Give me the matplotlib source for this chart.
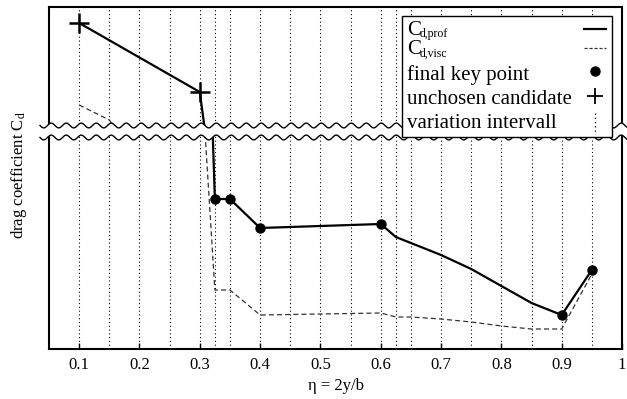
import numpy as np
import matplotlib
matplotlib.use("Agg")
import matplotlib.pyplot as plt
from matplotlib.lines import Line2D
from matplotlib.patches import Polygon, Rectangle

# ---------------- data (arbitrary drag units; upper panel shows the high range) -------------
eta_prof = [0.1, 0.3, 0.308, 0.3215, 0.325, 0.35, 0.4, 0.6, 0.625, 0.65, 0.7, 0.75, 0.8, 0.85, 0.9, 0.95]
cd_prof  = [526, 457, 421, 214, 150, 150, 121, 125, 112, 106, 94, 80, 63, 46, 34, 79]

eta_visc = [0.1, 0.15, 0.3, 0.325, 0.35, 0.4, 0.6, 0.625, 0.65, 0.7, 0.75, 0.8, 0.85, 0.9, 0.95]
cd_visc  = [444, 429, 300, 59, 59, 34, 36, 32, 32, 30, 27, 23, 20, 20, 75]

eta_key = [0.325, 0.35, 0.4, 0.6, 0.9, 0.95]
cd_key  = [150, 150, 121, 125, 34, 79]

eta_cand = [0.1, 0.3]
cd_cand  = [526, 457]

eta_var = [0.1, 0.15, 0.2, 0.25, 0.3, 0.325, 0.35, 0.4, 0.45, 0.5, 0.55, 0.6,
           0.625, 0.65, 0.7, 0.75, 0.8, 0.85, 0.9, 0.95]

xticks = [0.1, 0.2, 0.3, 0.4, 0.5, 0.6, 0.7, 0.8, 0.9, 1.0]
xticklabels = ["0.1", "0.2", "0.3", "0.4", "0.5", "0.6", "0.7", "0.8", "0.9", "1"]

legend_main = ['C', 'C', 'final key point', 'unchosen candidate', 'variation intervall']
legend_sub = ['d,prof', 'd,visc', '', '', '']

upper_lim = (421, 542)
lower_lim = (0, 214)

# ---------------- style ----------------
plt.rcParams['font.family'] = ['Liberation Serif', 'DejaVu Serif']
plt.rcParams['mathtext.fontset'] = 'custom'
plt.rcParams['mathtext.rm'] = 'Liberation Serif'
plt.rcParams['mathtext.it'] = 'Liberation Serif:italic'

W, H = 627, 399
fig = plt.figure(figsize=(W / 100, H / 100), dpi=100)

def fx(px):
    return px / W

def fy(py):
    return 1 - py / H

left, right = 49, 622
up_top, up_bot = 7, 128
lo_top, lo_bot = 135, 349

ax_u = fig.add_axes([fx(left), fy(up_bot), fx(right - left), (up_bot - up_top) / H])
ax_l = fig.add_axes([fx(left), fy(lo_bot), fx(right - left), (lo_bot - lo_top) / H], sharex=ax_u)

DOT = (0, (1, 2.4))
for ax, lim in ((ax_u, upper_lim), (ax_l, lower_lim)):
    for e in eta_var:
        ax.axvline(e, color='k', ls=DOT, lw=0.8, zorder=1)
    ax.plot(eta_visc, cd_visc, color='#333333', lw=0.9, dashes=(4, 2.5), zorder=2)
    ax.plot(eta_prof, cd_prof, color='k', lw=1.6, zorder=3)
    ax.plot(eta_key, cd_key, 'o', color='k', ms=6.5, zorder=4)
    ax.plot(eta_cand, cd_cand, '+', color='k', ms=14, mew=1.8, zorder=4)
    ax.set_ylim(*lim)
    ax.set_yticks([])
    for s in ax.spines.values():
        s.set_linewidth(1.5)

ax_u.set_xlim(0.05, 1.0)
ax_u.spines['bottom'].set_visible(False)
ax_l.spines['top'].set_visible(False)
ax_u.tick_params(axis='x', which='both', bottom=False, top=False, labelbottom=False)
ax_l.set_xticks(xticks)
ax_l.set_xticklabels(xticklabels)
ax_l.tick_params(axis='x', direction='in', length=4, width=1, labelsize=12, pad=6, top=False)
ax_l.set_xlabel('η = 2y/b', fontsize=12, labelpad=3)

fig.text(fx(19), fy(175), r'drag coefficient $\mathrm{C}_{\mathrm{d}}$', rotation=90,
         ha='center', va='center', fontsize=12)

# ---------------- axis break (wavy lines) ----------------
xs = np.linspace(40, 627, 800)
amp, per = 2.4, 15.0
w1 = 125.5 + amp * np.sin(2 * np.pi * (xs - 40) / per)
w2 = 137.5 + amp * np.sin(2 * np.pi * (xs - 40) / per)
poly = np.vstack([np.column_stack([fx(xs), fy(w1)]), np.column_stack([fx(xs[::-1]), fy(w2[::-1])])])
fig.add_artist(Polygon(poly, closed=True, transform=fig.transFigure, facecolor='white',
                       edgecolor='none', zorder=5))
fig.add_artist(Line2D(fx(xs), fy(w1), transform=fig.transFigure, color='k', lw=1.0, zorder=6))
fig.add_artist(Line2D(fx(xs), fy(w2), transform=fig.transFigure, color='k', lw=1.0, zorder=6))

# ---------------- legend (built by hand: text left, symbols right) ----------------
lx0, lx1, ly0, ly1 = 402, 612, 16, 137
fig.add_artist(Rectangle((fx(lx0), fy(ly1)), fx(lx1 - lx0), (ly1 - ly0) / H,
                         transform=fig.transFigure, facecolor='white', edgecolor='k',
                         lw=1.0, zorder=10))
baselines = [35, 54.5, 80, 104, 128]
for lab, sub, b in zip(legend_main, legend_sub, baselines):
    fig.text(fx(407), fy(b), lab, ha='left', va='baseline', fontsize=15, zorder=11)
    if sub:
        fig.text(fx(419.5), fy(b + 2), sub, ha='left', va='baseline', fontsize=8.5, zorder=11)

hx = 595
fig.add_artist(Line2D([fx(584), fx(606)], [fy(29), fy(29)], transform=fig.transFigure,
                      color='k', lw=1.6, zorder=11))
fig.add_artist(Line2D([fx(584), fx(606)], [fy(48), fy(48)], transform=fig.transFigure,
                      color='#333333', lw=0.9, dashes=(2.5, 1.5), zorder=11))
fig.add_artist(Line2D([fx(hx)], [fy(71)], transform=fig.transFigure, ls='none',
                      marker='o', color='k', ms=6.5, zorder=11))
fig.add_artist(Line2D([fx(hx)], [fy(96)], transform=fig.transFigure, ls='none',
                      marker='+', color='k', ms=11, mew=1.3, zorder=11))
fig.add_artist(Line2D([fx(hx), fx(hx)], [fy(113), fy(133)], transform=fig.transFigure,
                      color='k', ls=DOT, lw=0.9, zorder=11))

fig.savefig('out.png', dpi=100)
